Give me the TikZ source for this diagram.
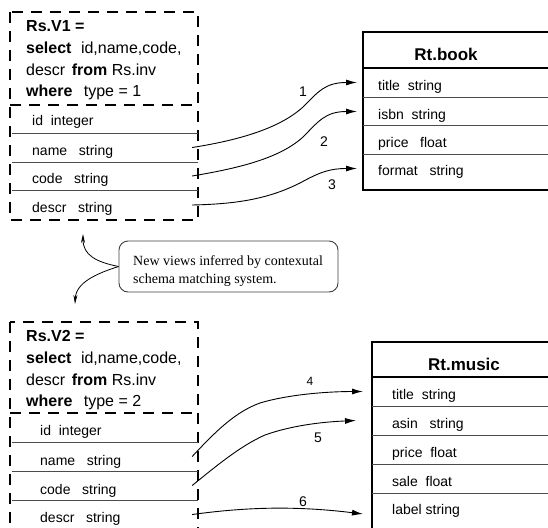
\documentclass[tikz,border=0pt]{standalone}
\usepackage{fontspec}
\setmainfont{Liberation Sans}
\newfontfamily\notefont{Liberation Serif}
\usetikzlibrary{arrows.meta}
\begin{document}
\begin{tikzpicture}[x=1pt,y=-1pt,
  vbox/.style={line width=2.6pt, dash pattern=on 11pt off 8pt},
  rtbox/.style={line width=2.6pt},
  sepline/.style={draw=black!70, line width=0.9pt},
  vrow/.style={draw=none, inner sep=0pt, minimum width=188pt, minimum height=28pt},
  rtrow/.style={draw=none, inner sep=0pt, minimum width=190pt, minimum height=28pt},
  hdr/.style={anchor=base west, inner sep=0pt, font=\fontsize{16}{19}\selectfont},
  rowtxt/.style={anchor=base west, inner sep=0pt, font=\fontsize{14}{16}\selectfont},
  ttl/.style={anchor=base, inner sep=0pt, font=\fontsize{17}{20}\selectfont\bfseries},
  numlbl/.style={inner sep=0pt, font=\fontsize{14}{16}\selectfont},
  smalllbl/.style={inner sep=0pt, font=\fontsize{12}{14}\selectfont},
  notetxt/.style={anchor=base west, inner sep=0pt, font=\fontsize{14}{16}\notefont},
  notebox/.style={draw=black!75, line width=0.9pt, rounded corners=9pt, minimum width=219pt, minimum height=51pt, inner sep=0pt},
  conn/.style={line width=0.9pt, -{Latex[length=11pt,width=6pt]}},
  noteconn/.style={line width=0.8pt, -{Stealth[length=9pt,width=4pt]}}
]
\fill[white] (0,0) rectangle (548,527);
\clip (0,0) rectangle (548,527);

% ---------- View 1 ----------
\draw[vbox] (10,12) rectangle (198,220);
\draw[vbox] (10,105) -- (198,105);
\draw[sepline] (12,133) -- (198,133);
\draw[sepline] (12,162) -- (198,162);
\draw[sepline] (12,190) -- (198,190);
\node[hdr] (v1a) at (26,31.5) {\textbf{Rs.V1 =}};
\node[hdr] (v1b) at (26,53) {\textbf{select}\hspace{5pt} id,name,code,};
\node[hdr] (v1c) at (26,75) {descr\hspace{2pt} \textbf{from} Rs.inv};
\node[hdr] (v1d) at (26,96.5) {\textbf{where}\hspace{7pt} type = 1};
\node[vrow] (v1id) at (104,119) {};
\node[vrow] (v1name) at (104,147.5) {};
\node[vrow] (v1code) at (104,176) {};
\node[vrow] (v1descr) at (104,205) {};
\node[rowtxt] (t1id) at (32,125) {id\ \ integer};
\node[rowtxt] (t1name) at (32,155) {name\ \ \ string};
\node[rowtxt] (t1code) at (32,183) {code\ \ \ string};
\node[rowtxt] (t1descr) at (32,212) {descr\ \ \ string};

% ---------- Rt.book ----------
\draw[rtbox] (363,32) rectangle (565,190);
\draw[rtbox] (363,68) -- (565,68);
\draw[sepline] (363,97) -- (565,97);
\draw[sepline] (363,125) -- (565,125);
\draw[sepline] (363,154) -- (565,154);
\node[ttl] (bkt) at (446,60) {Rt.book};
\node[rtrow, anchor=west] (bktitle) at (363,82.5) {};
\node[rtrow, anchor=west] (bkisbn) at (363,111.5) {};
\node[rtrow, anchor=west] (bkprice) at (363,139.5) {};
\node[rtrow, anchor=west] (bkformat) at (363,168.5) {};
\node[rowtxt] (tbk1) at (378,90) {title\ \ string};
\node[rowtxt] (tbk2) at (378,119) {isbn\ \ string};
\node[rowtxt] (tbk3) at (378,147) {price\ \ \ float};
\node[rowtxt] (tbk4) at (378,175) {format\ \ \ string};

% ---------- arrows 1-3 ----------
\draw[conn] ([xshift=-6pt]v1name.east) .. controls (240,140) and (280,128) .. (303,107)
  .. controls (318,92) and (325,82.5) .. ([xshift=-6pt]bktitle.west);
\draw[conn] ([xshift=-6pt]v1code.east) .. controls (240,168) and (280,158) .. (303,137)
  .. controls (318,122) and (325,111.5) .. ([xshift=-6pt]bkisbn.west);
\draw[conn] ([xshift=-6pt]v1descr.east) .. controls (240,204) and (270,198) .. (300,183)
  .. controls (320,172) and (330,168.5) .. ([xshift=-6pt]bkformat.west);
\node[numlbl] (n1) at (303,92) {1};
\node[numlbl] (n2) at (324,142) {2};
\node[numlbl] (n3) at (332,185) {3};

% ---------- note ----------
\node[notebox] (note) at (228.5,266.5) {};
\node[notetxt] (nt1) at (133,265) {New views inferred by contexutal};
\node[notetxt] (nt2) at (133,283) {schema matching system.};
\draw[noteconn] (note.west) .. controls (96,262) and (83,255) .. (83,234);
\draw[noteconn] (note.west) .. controls (95,274) and (76,283) .. (75,304);

% ---------- View 2 ----------
\draw[vbox] (10,322) rectangle (198,545);
\draw[vbox] (10,413) -- (198,413);
\draw[sepline] (12,442) -- (198,442);
\draw[sepline] (12,471) -- (198,471);
\draw[sepline] (12,500) -- (198,500);
\node[hdr] (v2a) at (26,341.5) {\textbf{Rs.V2 =}};
\node[hdr] (v2b) at (26,363) {\textbf{select}\hspace{5pt} id,name,code,};
\node[hdr] (v2c) at (26,385) {descr\hspace{2pt} \textbf{from} Rs.inv};
\node[hdr] (v2d) at (26,406.5) {\textbf{where}\hspace{7pt} type = 2};
\node[vrow] (v2id) at (104,427.5) {};
\node[vrow] (v2name) at (104,456.5) {};
\node[vrow] (v2code) at (104,485.5) {};
\node[vrow] (v2descr) at (104,514.5) {};
\node[rowtxt] (t2id) at (40,435) {id\ \ integer};
\node[rowtxt] (t2name) at (40,465) {name\ \ \ string};
\node[rowtxt] (t2code) at (40,494) {code\ \ \ string};
\node[rowtxt] (t2descr) at (40,522) {descr\ \ \ string};

% ---------- Rt.music ----------
\draw[rtbox] (372,342) rectangle (565,545);
\draw[rtbox] (372,377) -- (565,377);
\draw[sepline] (372,406) -- (565,406);
\draw[sepline] (372,435) -- (565,435);
\draw[sepline] (372,464) -- (565,464);
\draw[sepline] (372,493) -- (565,493);
\node[ttl] (mut) at (464,370.5) {Rt.music};
\node[rtrow, anchor=west] (mutitle) at (372,391.5) {};
\node[rtrow, anchor=west] (muasin) at (372,420.5) {};
\node[rtrow, anchor=west] (muprice) at (372,449.5) {};
\node[rtrow, anchor=west] (musale) at (372,478.5) {};
\node[rtrow, anchor=west] (mulabel) at (372,514) {};
\node[rowtxt] (tmu1) at (392,399) {title\ \ string};
\node[rowtxt] (tmu2) at (392,428) {asin\ \ \ string};
\node[rowtxt] (tmu3) at (392,457) {price\ \ float};
\node[rowtxt] (tmu4) at (392,486) {sale\ \ float};
\node[rowtxt] (tmu5) at (392,514) {label string};

% ---------- arrows 4-6 ----------
\draw[conn] ([xshift=-6pt]v2name.east) .. controls (215,432) and (235,412) .. (260,403)
  .. controls (290,394) and (330,391.5) .. ([xshift=-9pt]mutitle.west);
\draw[conn] ([xshift=-6pt]v2code.east) .. controls (215,467) and (240,446) .. (265,435)
  .. controls (290,426) and (320,422) .. ([xshift=-16pt]muasin.west);
\draw[conn] ([xshift=-6pt]v2descr.east) .. controls (240,508) and (290,505) .. ([xshift=-9pt]mulabel.west);
\node[smalllbl] (n4) at (310,381) {4};
\node[numlbl] (n5) at (318,438) {5};
\node[numlbl] (n6) at (303,502) {6};
\end{tikzpicture}
\end{document}
